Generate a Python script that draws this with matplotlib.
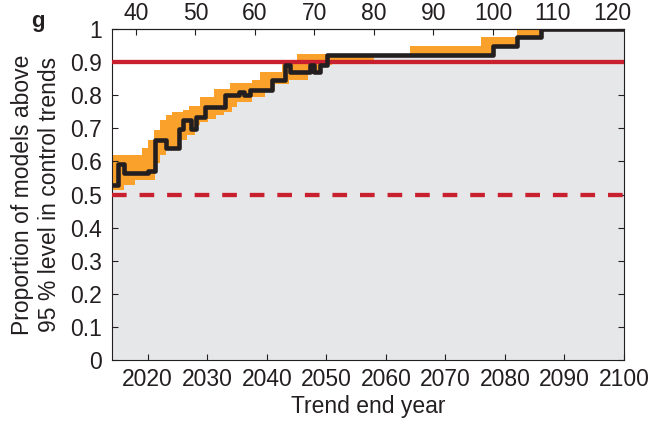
import matplotlib
matplotlib.use('Agg')
import matplotlib.pyplot as plt
import numpy as np

plt.rcParams.update({'font.family': ['Liberation Sans', 'DejaVu Sans'],
                     'font.size': 16.5,
                     'text.color': '#231f20',
                     'axes.labelcolor': '#231f20',
                     'xtick.color': '#231f20',
                     'ytick.color': '#231f20',
                     })

# step series: value holds from this year until the next one
mid_years = [2014, 2015, 2016, 2020, 2021.3, 2023, 2025.2, 2026, 2027.2, 2028.1, 2029.7, 2033,
             2035.3, 2036.1, 2037.2, 2040.9, 2043.1, 2043.9, 2047.3, 2047.9, 2049, 2050.1,
             2078, 2082, 2086, 2100]
mid_vals = [0.528, 0.591, 0.565, 0.571, 0.664, 0.639, 0.699, 0.724, 0.699, 0.734, 0.764, 0.800,
            0.810, 0.800, 0.815, 0.845, 0.890, 0.870, 0.890, 0.870, 0.890, 0.922,
            0.950, 0.975, 1.0, 1.0]

upper_years = [2014, 2019, 2020, 2021, 2022.1, 2023, 2024.1, 2026, 2026.9, 2028.8, 2031.1, 2033.9,
               2037.5, 2038.9, 2042.5, 2045, 2050.1, 2064, 2076, 2082, 2100]
upper_vals = [0.619, 0.639, 0.664, 0.696, 0.726, 0.739, 0.749, 0.756, 0.766, 0.795, 0.820, 0.837,
              0.845, 0.870, 0.895, 0.925, 0.922, 0.950, 0.976, 1.0, 1.0]

lower_years = [2014, 2016, 2017.9, 2021.3, 2022.1, 2023, 2025.5, 2026.6, 2028, 2028.8, 2030.2,
               2031.4, 2032.8, 2034.1, 2035, 2037.5, 2039.7, 2041.4, 2043.7, 2047, 2049.2,
               2050.9, 2058, 2078, 2082, 2086, 2100]
lower_vals = [0.513, 0.528, 0.543, 0.594, 0.619, 0.634, 0.664, 0.679, 0.709, 0.719, 0.729,
              0.739, 0.749, 0.764, 0.779, 0.794, 0.815, 0.835, 0.845, 0.870, 0.890,
              0.905, 0.922, 0.950, 0.975, 1.0, 1.0]

target_level = 0.9
half_level = 0.5
start_year = 1978  # top axis = trend length in years

fig = plt.figure(figsize=(6.62, 4.28), dpi=100)
ax = fig.add_axes([112 / 662, 1 - 360 / 428, 512 / 662, 331 / 428])

ax.fill_between(upper_years, 0, upper_vals, step='post', color='#f9a12b', lw=0)
ax.fill_between(lower_years, 0, lower_vals, step='post', color='#e6e7e8', lw=0)
ax.axhline(target_level, color='#c9202f', lw=3.1, zorder=3)
ax.axhline(half_level, color='#c9202f', lw=3.1, dashes=(3.4, 3.0), zorder=3)
ax.step(mid_years, mid_vals, where='post', color='#231f20', lw=3.3, zorder=4)

ax.set_xlim(2014, 2100)
ax.set_ylim(0, 1)
ax.set_xticks(np.arange(2020, 2101, 10))
ax.set_yticks(np.arange(0, 1.01, 0.1))
ax.set_yticklabels(['0', '0.1', '0.2', '0.3', '0.4', '0.5', '0.6', '0.7', '0.8', '0.9', '1'])
ax.tick_params(direction='in', length=4, width=0.8, right=True)
ax.tick_params(axis='y', pad=7)
ax.tick_params(axis='x', pad=6)
for s in ax.spines.values():
    s.set_linewidth(0.8)
    s.set_color('#231f20')

top = ax.secondary_xaxis('top', functions=(lambda x: x - start_year, lambda x: x + start_year))
top.set_xticks(np.arange(40, 121, 10))
top.tick_params(direction='in', length=4, width=0.8, pad=3)

ax.set_xlabel('Trend end year', labelpad=3)
ax.set_ylabel('Proportion of models above\n95 % level in control trends', labelpad=7)
fig.text(38 / 662, 1 - 22 / 428, 'g', weight='bold', ha='center', va='center', fontsize=16)

plt.savefig('out.png')
